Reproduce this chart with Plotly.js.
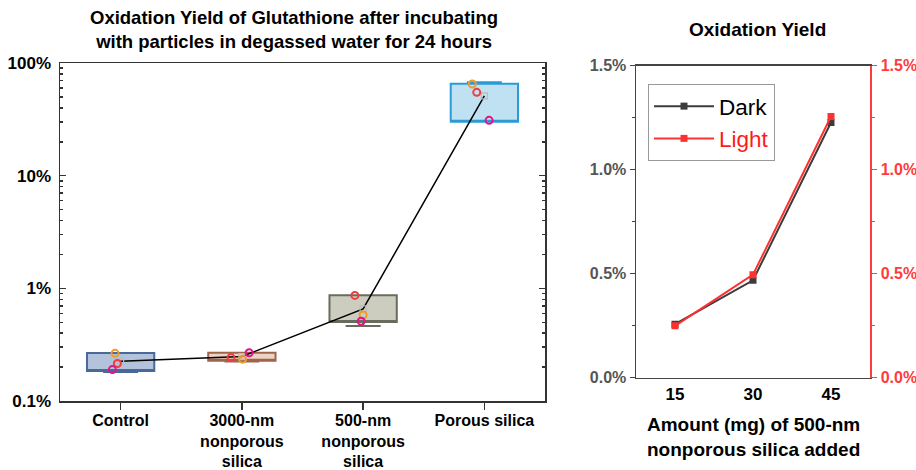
<!DOCTYPE html>
<html>
<head>
<meta charset="utf-8">
<script src="https://cdn.plot.ly/plotly-3.0.1.min.js"></script>
<style>html,body{margin:0;padding:0;background:#fff}#chart{width:916px;height:470px}</style>
</head>
<body>
<div id="chart"></div>
<script>
// ---- Left panel data (percent) ----
const categories = ['Control', '3000-nm<br>nonporous<br>silica', '500-nm<br>nonporous<br>silica', 'Porous silica'];
const boxQ1 = [0.185, 0.228, 0.503, 30.1];
const boxQ3 = [0.267, 0.268, 0.868, 65.5];
const whiskerLow = [0.181, 0.224, 0.464, 32.7];
const whiskerHigh = [0.262, 0.262, 0.844, 67.4];
const meanValues = [0.225, 0.248, 0.656, 51.0];
const sample1 = [0.265, 0.235, 0.58, 65.1];   // orange
const sample2 = [0.215, 0.243, 0.865, 54.9];  // red
const sample3 = [0.19, 0.268, 0.51, 31.0];    // magenta
const leftTickVals = [0.1, 1, 10, 100];
const leftTickText = ['0.1%', '1%', '10%', '100%'];

// ---- Right panel data (percent) ----
const amounts = [15, 30, 45];
const darkYield = [0.257, 0.468, 1.226];
const lightYield = [0.249, 0.495, 1.255];
const rightTickVals = [0, 0.5, 1.0, 1.5];
const rightTickText = ['0.0%', '0.5%', '1.0%', '1.5%'];

// ---- styling ----
const boxFill = ['#b3c3dc', '#ecd3c4', '#cdcdbf', '#bfe1f2'];
const boxLine = ['#4a6898', '#a0644b', '#696c5c', '#2a9bd7'];
const jitter1 = [-0.046, 0.006, 0.0, -0.10];
const jitter2 = [-0.027, -0.09, -0.068, -0.063];
const jitter3 = [-0.068, 0.06, -0.016, 0.039];
const FONT = 'Liberation Sans, Arial, sans-serif';

const idx = categories.map((_, i) => i);
const traces = [];
idx.forEach(i => {
  traces.push({
    type: 'box', xaxis: 'x', yaxis: 'y',
    x: [i], q1: [boxQ1[i]], median: [boxQ1[i]], q3: [boxQ3[i]],
    lowerfence: [whiskerLow[i]], upperfence: [whiskerHigh[i]],
    width: 0.555, whiskerwidth: 0.52,
    fillcolor: boxFill[i], line: {color: boxLine[i], width: 2},
    boxpoints: false, showlegend: false, hoverinfo: 'skip'
  });
});
traces.push({
  type: 'scatter', mode: 'lines+markers', xaxis: 'x', yaxis: 'y',
  x: idx, y: meanValues,
  line: {color: '#000', width: 1.5},
  marker: {symbol: 'square-open', size: 6, color: '#bbbbbb', line: {width: 1.2}},
  showlegend: false, hoverinfo: 'skip'
});
[[sample1, jitter1, '#f39a2a'], [sample2, jitter2, '#f03c3c'], [sample3, jitter3, '#e0148c']].forEach(([vals, jit, col]) => {
  traces.push({
    type: 'scatter', mode: 'markers', xaxis: 'x', yaxis: 'y',
    x: idx.map(i => i + jit[i]), y: vals,
    marker: {symbol: 'circle-open', size: 7, color: col, line: {width: 2}},
    showlegend: false, hoverinfo: 'skip'
  });
});
traces.push({
  type: 'scatter', mode: 'lines+markers', xaxis: 'x2', yaxis: 'y2',
  x: amounts, y: darkYield, name: 'Dark',
  line: {color: '#3c3c3c', width: 2}, marker: {symbol: 'square', size: 7, color: '#3c3c3c'}
});
traces.push({
  type: 'scatter', mode: 'lines+markers', xaxis: 'x2', yaxis: 'y3',
  x: amounts, y: lightYield, name: '<span style="color:#ff1a1a">Light</span>',
  line: {color: '#ff3030', width: 2}, marker: {symbol: 'square', size: 7, color: '#ff3030'}
});

const layout = {
  width: 916, height: 470,
  margin: {l: 0, r: 0, t: 0, b: 0},
  paper_bgcolor: '#fff', plot_bgcolor: 'rgba(0,0,0,0)',
  font: {family: FONT, color: '#000'},
  xaxis: {
    domain: [60/916, 545/916], range: [-0.5, 3.5],
    tickmode: 'array', tickvals: idx, ticktext: categories,
    ticks: 'outside', ticklen: 7, tickcolor: '#333', tickwidth: 1.5,
    ticklabelstandoff: -3,
    showline: true, linecolor: '#333', linewidth: 1.5, mirror: true,
    showgrid: false, zeroline: false,
    tickfont: {size: 16, weight: 'bold', color: '#000'}
  },
  yaxis: {
    domain: [1 - 401/470, 1 - 63/470], type: 'log', range: [-1, 2],
    tickmode: 'array', tickvals: leftTickVals, ticktext: leftTickText,
    ticks: 'inside', ticklen: 6, tickcolor: '#333', tickwidth: 1.5,
    minor: {ticks: 'inside', ticklen: 3, tickcolor: '#333', dtick: 'D1', showgrid: false},
    showline: true, linecolor: '#333', linewidth: 1.5, mirror: 'ticks',
    showgrid: false, zeroline: false, ticklabelstandoff: 4,
    tickfont: {size: 17, weight: 'bold', color: '#000'}
  },
  xaxis2: {
    domain: [636/916, 870/916], range: [7.5, 52.5], anchor: 'y2',
    tickvals: amounts, ticks: '', showline: true, linecolor: '#444', linewidth: 1.5, mirror: true,
    showgrid: false, zeroline: false,
    tickfont: {size: 17, weight: 'bold', color: '#000'}
  },
  xaxis3: {
    overlaying: 'x2', matches: 'x2', side: 'top', anchor: 'y2',
    tickvals: amounts, ticks: 'inside', ticklen: 5, tickcolor: '#444', tickwidth: 1.2,
    showticklabels: false, showline: false, showgrid: false, zeroline: false
  },
  yaxis2: {
    domain: [1 - 377.7/470, 1 - 65.5/470], anchor: 'x2', range: [0, 1.5],
    tickmode: 'array', tickvals: rightTickVals, ticktext: rightTickText,
    ticks: 'outside', ticklen: 5, tickcolor: '#444', tickwidth: 1.2,
    minor: {tickvals: [0.25, 0.75, 1.25], ticks: 'outside', ticklen: 3, tickcolor: '#444'},
    showline: true, linecolor: '#444', linewidth: 1.5,
    showgrid: false, zeroline: false,
    tickfont: {size: 16, weight: 'bold', color: '#555'}
  },
  yaxis3: {
    overlaying: 'y2', side: 'right', anchor: 'x2', range: [0, 1.5],
    tickmode: 'array', tickvals: rightTickVals, ticktext: rightTickText,
    ticks: 'outside', ticklen: 5, tickcolor: '#ff3b3b', tickwidth: 1.2,
    minor: {tickvals: [0.25, 0.75, 1.25], ticks: 'outside', ticklen: 3, tickcolor: '#ff3b3b'},
    showline: true, linecolor: '#ff3b3b', linewidth: 1.5,
    showgrid: false, zeroline: false, ticklabelstandoff: 1,
    tickfont: {size: 16, weight: 'bold', color: '#ff3b3b'}
  },
  legend: {
    x: 648/916, y: 1 - 84/470, xanchor: 'left', yanchor: 'top',
    bgcolor: '#fff', bordercolor: '#999', borderwidth: 1, itemwidth: 60,
    font: {size: 22.5, family: FONT, color: '#000'}
  },
  showlegend: true,
  annotations: [
    {text: 'Oxidation Yield of Glutathione after incubating<br>with particles in degassed water for 24 hours',
     xref: 'paper', yref: 'paper', x: 294/916, y: 1 - 29/470, xanchor: 'center', yanchor: 'middle',
     showarrow: false, font: {size: 18.5, weight: 'bold', family: FONT}},
    {text: 'Oxidation Yield', xref: 'paper', yref: 'paper', x: 757/916, y: 1 - 29/470,
     xanchor: 'center', yanchor: 'middle', showarrow: false, font: {size: 19, weight: 'bold', family: FONT}},
    {text: 'Amount (mg) of 500-nm', xref: 'paper', yref: 'paper',
     x: 753/916, y: 1 - 424/470, xanchor: 'center', yanchor: 'middle', showarrow: false,
     font: {size: 19, weight: 'bold', family: FONT}},
    {text: 'nonporous silica added', xref: 'paper', yref: 'paper',
     x: 753/916, y: 1 - 449/470, xanchor: 'center', yanchor: 'middle', showarrow: false,
     font: {size: 19, weight: 'bold', family: FONT}}
  ]
};

Plotly.newPlot('chart', traces, layout, {staticPlot: true, displayModeBar: false});
</script>
</body>
</html>
